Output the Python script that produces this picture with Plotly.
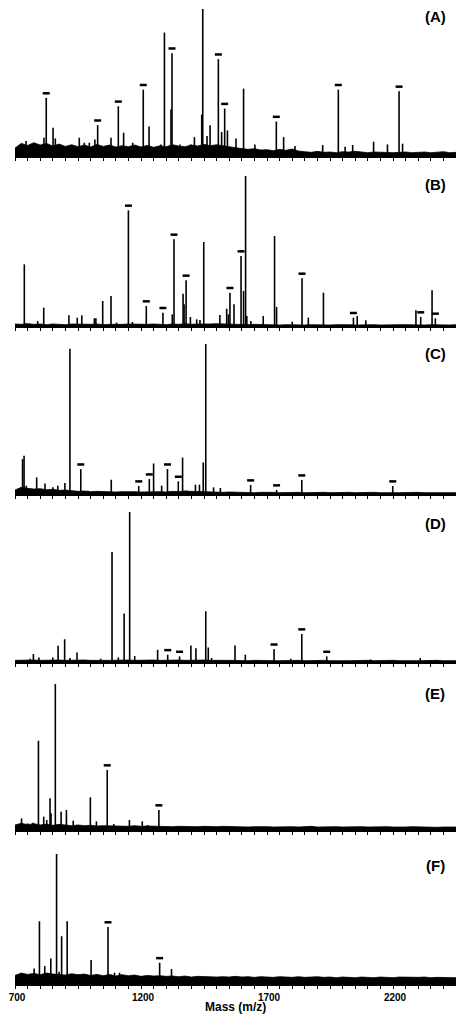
import plotly.graph_objects as go

# --- data (intensity in arbitrary units) ---
panel_labels = ["(A)", "(B)", "(C)", "(D)", "(E)", "(F)"]

mass_a = [744, 815, 824, 851, 860, 955, 975, 995, 1017, 1028, 1081, 1110, 1131, 1167,
          1209, 1232, 1279, 1293, 1319, 1323, 1355, 1397, 1412, 1441, 1445, 1462, 1474,
          1507, 1520, 1532, 1543, 1577, 1607, 1652, 1737, 1766, 1811, 1921, 1983, 2010,
          2040, 2123, 2178, 2224, 2238]
int_a = [45, 55, 175, 85, 53, 55, 40, 40, 50, 93, 55, 150, 70, 40,
         200, 89, 35, 372, 140, 310, 35, 35, 57, 125, 443, 60, 93,
         292, 72, 143, 77, 53, 203, 35, 104, 57, 30, 33, 200, 28,
         33, 43, 35, 195, 37]
marked_a = [824, 1028, 1110, 1209, 1323, 1507, 1532, 1737, 1983, 2224]

mass_b = [737, 745, 760, 790, 814, 914, 947, 965, 1015, 1021, 1048, 1081, 1103, 1150,
          1166, 1221, 1287, 1324, 1331, 1367, 1371, 1379, 1396, 1421, 1434, 1449, 1513,
          1540, 1547, 1553, 1569, 1597, 1607, 1615, 1620, 1636, 1685, 1730, 1738, 1800,
          1839, 1864, 1924, 2043, 2058, 2092, 2291, 2310, 2355, 2368]
int_b = [185, 8, 6, 15, 55, 32, 25, 32, 23, 23, 75, 90, 10, 347,
         12, 60, 40, 35, 260, 97, 65, 137, 27, 20, 18, 252, 33,
         52, 35, 100, 65, 210, 105, 450, 30, 15, 30, 270, 57, 13,
         143, 25, 100, 25, 30, 17, 47, 27, 107, 23]
marked_b = [1150, 1221, 1287, 1331, 1379, 1553, 1597, 1839, 2043, 2310, 2368]

mass_c = [730, 736, 745, 786, 800, 819, 850, 870, 898, 918, 961, 990, 1082, 1191,
          1233, 1250, 1282, 1305, 1348, 1365, 1380, 1416, 1432, 1447, 1457, 1488, 1515,
          1635, 1738, 1838, 2199]
int_c = [105, 115, 25, 50, 15, 32, 20, 25, 33, 438, 75, 10, 43, 24,
         45, 92, 25, 75, 38, 110, 10, 28, 28, 95, 452, 20, 18,
         27, 12, 42, 24]
marked_c = [961, 1191, 1233, 1305, 1348, 1635, 1738, 1838, 2199]

mass_d = [760, 773, 795, 850, 871, 897, 918, 946, 1040, 1085, 1110, 1133, 1155, 1175,
          1266, 1306, 1353, 1398, 1418, 1457, 1467, 1480, 1573, 1614, 1728, 1794, 1838,
          1937, 2111, 2308]
int_d = [10, 24, 14, 14, 49, 69, 12, 29, 10, 334, 14, 147, 455, 18,
         37, 22, 17, 50, 42, 154, 44, 12, 50, 22, 39, 10, 85,
         17, 8, 12]
marked_d = [1306, 1353, 1728, 1838, 1937]

mass_e = [726, 750, 772, 793, 814, 826, 839, 843, 860, 883, 904, 931, 999, 1023,
          1066, 1092, 1154, 1205, 1226, 1271, 1297]
int_e = [35, 20, 22, 268, 40, 30, 95, 50, 438, 55, 60, 28, 98, 26,
         180, 18, 30, 26, 15, 60, 12]
marked_e = [1066, 1271]

mass_f = [776, 797, 818, 842, 865, 875, 885, 907, 935, 1002, 1069, 1095, 1115, 1274, 1321]
int_f = [47, 189, 54, 77, 392, 37, 144, 189, 25, 72, 172, 34, 34, 64, 45]
marked_f = [1069, 1274]

# baseline noise envelope, one value every 25 Da from 700 to 2450
noise_mass = list(range(700, 2451, 25))
noise_a = [24, 38, 32, 40, 33, 38, 30, 36, 29, 34,
           28, 33, 27, 35, 29, 33, 27, 31, 28, 33,
           27, 32, 26, 31, 28, 34, 30, 28, 33, 30,
           35, 31, 34, 32, 28, 25, 23, 20, 22, 18,
           19, 16, 20, 17, 21, 15, 13, 11, 14, 11,
           12, 10, 13, 12, 14, 11, 10, 12, 11, 12,
           10, 11, 12, 10, 11, 12, 10, 11, 13, 10,
           11]
noise_b = [6, 5, 7, 5, 6, 4, 6, 5, 4, 6,
           5, 4, 5, 6, 4, 5, 4, 5, 6, 5,
           4, 5, 6, 5, 4, 6, 5, 7, 5, 6,
           5, 6, 7, 6, 5, 4, 5, 4, 5, 4,
           5, 4, 3, 4, 3, 4, 3, 4, 3, 4,
           3, 4, 5, 4, 3, 4, 3, 4, 3, 4,
           3, 4, 4, 3, 4, 3, 4, 3, 4, 3,
           4]
noise_c = [12, 20, 17, 15, 16, 13, 14, 11, 12, 10,
           8, 9, 7, 8, 7, 8, 6, 7, 8, 7,
           6, 7, 8, 7, 6, 8, 7, 9, 8, 7,
           6, 7, 6, 5, 6, 5, 6, 5, 4, 5,
           6, 5, 4, 5, 4, 5, 4, 5, 4, 5,
           4, 5, 4, 5, 4, 5, 4, 5, 4, 5,
           4, 4, 5, 4, 5, 4, 4, 5, 4, 5,
           4]
noise_d = [5, 6, 5, 6, 5, 6, 5, 6, 5, 6,
           5, 6, 5, 6, 5, 5, 6, 5, 6, 5,
           6, 5, 6, 5, 6, 5, 6, 5, 6, 5,
           6, 5, 6, 5, 5, 4, 5, 4, 5, 4,
           5, 4, 4, 5, 4, 5, 4, 5, 4, 5,
           4, 5, 4, 4, 5, 4, 5, 4, 5, 4,
           5, 4, 5, 4, 4, 5, 4, 5, 4, 5,
           4]
noise_e = [15, 20, 16, 19, 15, 18, 14, 17, 15, 13,
           15, 13, 14, 12, 13, 12, 13, 12, 11, 13,
           11, 12, 11, 12, 11, 10, 11, 10, 11, 10,
           11, 10, 10, 11, 10, 11, 10, 9, 10, 11,
           10, 9, 10, 9, 10, 9, 10, 11, 9, 10,
           9, 10, 9, 10, 9, 10, 9, 10, 9, 10,
           9, 8, 9, 10, 9, 10, 9, 8, 9, 10,
           9]
noise_f = [26, 33, 29, 32, 28, 33, 30, 29, 27, 31,
           28, 30, 26, 29, 25, 29, 24, 28, 25, 27,
           23, 26, 24, 25, 23, 24, 22, 24, 21, 23,
           22, 23, 21, 22, 21, 23, 21, 22, 20, 22,
           21, 20, 22, 21, 20, 22, 20, 21, 22, 20,
           21, 19, 21, 20, 19, 21, 20, 19, 21, 20,
           19, 21, 20, 19, 20, 21, 19, 20, 19, 20,
           19]

tick_major = [700, 1200, 1700, 2200]

panels = [
    (mass_a, int_a, marked_a, noise_a),
    (mass_b, int_b, marked_b, noise_b),
    (mass_c, int_c, marked_c, noise_c),
    (mass_d, int_d, marked_d, noise_d),
    (mass_e, int_e, marked_e, noise_e),
    (mass_f, int_f, marked_f, noise_f),
]

# --- layout: page body has an 8px margin, so work in reference pixels and convert ---
OFF = 8
W, H = 464 - 2 * OFF, 1022 - 2 * OFF


def clamp(v):
    return max(0.0, min(1.0, v))


def px_x(x):
    return clamp((x - OFF) / W)


def px_y(y):
    return clamp(1 - (y - OFF) / H)


rows_px = [(156, 8), (326, 175), (494, 343), (662, 511), (830, 683), (984, 853)]
label_y_px = [17, 185, 353, 523, 693, 865]
x_dom = [px_x(15), px_x(456)]
FONT = "Liberation Sans, Arial, sans-serif"

fig = go.Figure()
layout = dict(
    width=W, height=H,
    margin=dict(l=0, r=0, t=0, b=0, autoexpand=False),
    paper_bgcolor="white", plot_bgcolor="white",
    showlegend=False,
    font=dict(family=FONT, color="black"),
)

all_ticks = list(range(700, 2451, 50))
annotations = []

for i, (mass, inten, marked, noise) in enumerate(panels):
    n = i + 1
    xa = "x" if n == 1 else f"x{n}"
    ya = "y" if n == 1 else f"y{n}"

    # noise band
    fig.add_trace(go.Scatter(
        x=noise_mass, y=noise, xaxis=xa, yaxis=ya, mode="lines",
        line=dict(color="black", width=0.8), fill="tozeroy", fillcolor="black",
        hoverinfo="skip"))

    # stick spectrum
    xs, ys = [], []
    for m, h in zip(mass, inten):
        xs += [m, m, None]
        ys += [0, h, None]
    fig.add_trace(go.Scatter(
        x=xs, y=ys, xaxis=xa, yaxis=ya, mode="lines",
        line=dict(color="black", width=1.6)))

    # dot markers above the labelled peaks
    lookup = dict(zip(mass, inten))
    fig.add_trace(go.Scatter(
        x=marked, y=[lookup[m] + 14 for m in marked], xaxis=xa, yaxis=ya,
        mode="markers",
        marker=dict(symbol="line-ew", size=5, line=dict(width=2.5, color="black"))))

    base, top = rows_px[i]
    last = n == len(panels)
    layout["xaxis" if n == 1 else f"xaxis{n}"] = dict(
        domain=x_dom, range=[700, 2450], anchor=ya, automargin=False,
        showline=True, linecolor="black", linewidth=1.5,
        showgrid=False, zeroline=False,
        ticks="outside", ticklen=3, tickwidth=1, tickcolor="black",
        tickvals=all_ticks,
        ticktext=[str(v) if (last and v in tick_major) else "" for v in all_ticks],
        showticklabels=last,
        ticklabeloverflow="allow", ticklabelshift=2,
        tickfont=dict(family=FONT, size=10, color="black", weight="bold"),
    )
    layout["yaxis" if n == 1 else f"yaxis{n}"] = dict(
        domain=[px_y(base), px_y(top)], range=[0, max(inten) + 3],
        anchor=xa, visible=False, automargin=False,
    )

    annotations.append(dict(
        text=f"<b>{panel_labels[i]}</b>", xref="paper", yref="paper",
        x=px_x(435), y=px_y(label_y_px[i]), xanchor="center", yanchor="middle",
        showarrow=False, font=dict(family=FONT, size=15, color="black")))

annotations.append(dict(
    text="<b>Mass (m/z)</b>", xref="paper", yref="paper",
    x=(x_dom[0] + x_dom[1]) / 2, y=0, xanchor="center", yanchor="bottom", yshift=-2,
    showarrow=False, font=dict(family=FONT, size=12, color="black")))

layout["annotations"] = annotations
fig.update_layout(**layout)

fig.write_html("out.html")
